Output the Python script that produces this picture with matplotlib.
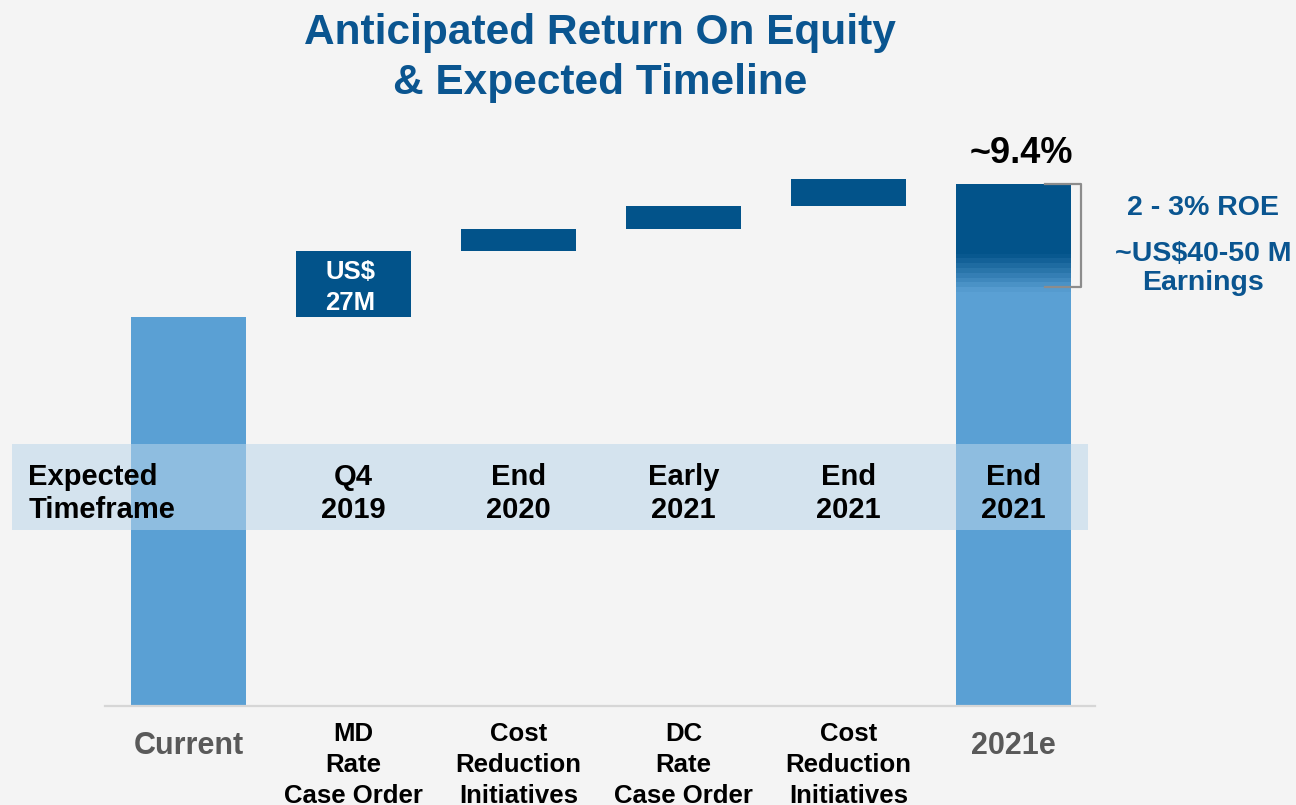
import numpy as np
import matplotlib
matplotlib.use("Agg")
import matplotlib.pyplot as plt
from matplotlib.patches import Rectangle
from matplotlib.colors import to_rgb

plt.rcParams['font.family'] = ['Liberation Sans', 'DejaVu Sans']
plt.rcParams['font.weight'] = 'bold'

# -----------------------------
# DATA (ROE, %)
# -----------------------------
categories = ["Current", "MD\nRate\nCase Order", "Cost\nReduction\nInitiatives",
              "DC\nRate\nCase Order", "Cost\nReduction\nInitiatives", "2021e"]
current_roe = 7.0
step_values = [1.19, 0.41, 0.40, 0.50]
total_roe = 9.4
upside_low = 7.55          # bottom of the 2 - 3% ROE bracket
timeframes = ["Q4\n2019", "End\n2020", "Early\n2021", "End\n2021", "End\n2021"]
step_note = "US$\n27M"
total_label = "~9.4%"
upside_labels = ["2 - 3% ROE", "~US$40-50 M\nEarnings"]
band_y = (3.17, 4.72)

# colours
BG = '#f4f4f4'
LIGHT = '#5aa0d4'
DARK = '#02538a'
TITLE_C = '#0a5590'
BAND = '#bad6ea'

fig = plt.figure(figsize=(12.96, 8.05), dpi=100, facecolor=BG)
ax = fig.add_axes([105/1296, 99/805, 990/1296, 577.2/805])
ax.set_facecolor(BG)

x = np.arange(len(categories))
w = 0.7

# current
ax.bar(x[0], current_roe, width=w, color=LIGHT, zorder=2)

# steps
bottoms = current_roe + np.concatenate([[0], np.cumsum(step_values)[:-1]])
ax.bar(x[1:5], step_values, bottom=bottoms, width=w, color=DARK, zorder=2)

# total bar with dark top and stepped gradient
grad_lo, grad_hi = 7.46, 8.15
ax.bar(x[5], grad_lo, width=w, color=LIGHT, zorder=2)
ax.bar(x[5], total_roe - grad_hi, bottom=grad_hi, width=w, color=DARK, zorder=2)
n = 8
edges = np.linspace(grad_lo, grad_hi, n + 1)
c0, c1 = np.array(to_rgb(LIGHT)), np.array(to_rgb(DARK))
for i in range(n):
    t = (i + 0.5) / n
    ax.bar(x[5], edges[i+1] - edges[i], bottom=edges[i], width=w,
           color=c0 * (1 - t) + c1 * t, zorder=2, linewidth=0)

ax.text(x[1] - 0.02, bottoms[0] + step_values[0] / 2 - 0.05, step_note,
        color='white', fontsize=18.5, ha='center', va='center',
        linespacing=1.35, zorder=3)

# timeframe band
ax.add_patch(Rectangle((-1.07, band_y[0]), 6.52, band_y[1] - band_y[0],
                       facecolor=BAND, alpha=0.55, edgecolor='none',
                       zorder=4, clip_on=False))
band_mid = sum(band_y) / 2 - 0.11
ax.text(-0.97, band_mid, "Expected\nTimeframe", fontsize=21, ha='left',
        va='center', linespacing=1.22, zorder=5)
for xi, lab in zip(x[1:], timeframes):
    ax.text(xi, band_mid, lab, fontsize=21, ha='center', va='center',
            linespacing=1.22, zorder=5)

# total label and bracket
ax.text(x[5] + 0.05, total_roe + 0.55, total_label, fontsize=26, ha='center',
        va='center')
ax.plot([5.19, 5.41, 5.41, 5.19], [total_roe, total_roe, upside_low, upside_low],
        color='#8c8c8c', lw=1.6, zorder=6, clip_on=False)
ax.text(6.15, total_roe - 0.43, upside_labels[0], color=TITLE_C, fontsize=20.5,
        ha='center', va='center')
ax.text(6.15, total_roe - 1.52, upside_labels[1], color=TITLE_C, fontsize=20.5,
        ha='center', va='center', linespacing=1.18)

# x labels
ax.set_xlim(-0.506, 5.494)
ax.set_ylim(0, 10.4)
ax.set_xticks([])
ax.set_yticks([])
for s in ['top', 'left', 'right']:
    ax.spines[s].set_visible(False)
ax.spines['bottom'].set_color('#d6d6d6')
ax.spines['bottom'].set_linewidth(1.6)

trans = ax.get_xaxis_transform()
for xi, lab in zip(x, categories):
    if "\n" in lab:
        ax.text(xi, -0.102, lab, transform=trans, fontsize=18.5, ha='center',
                va='center', linespacing=1.38)
    else:
        ax.text(xi, -0.07, lab, transform=trans, fontsize=22, color='#595959',
                ha='center', va='center')

fig.text(600/1296, 1 - 33/805, "Anticipated Return On Equity", color=TITLE_C,
         fontsize=30.5, ha='center', va='center')
fig.text(600/1296, 1 - 83/805, "& Expected Timeline", color=TITLE_C,
         fontsize=30.5, ha='center', va='center')

fig.savefig("out.png", dpi=100, facecolor=BG)
